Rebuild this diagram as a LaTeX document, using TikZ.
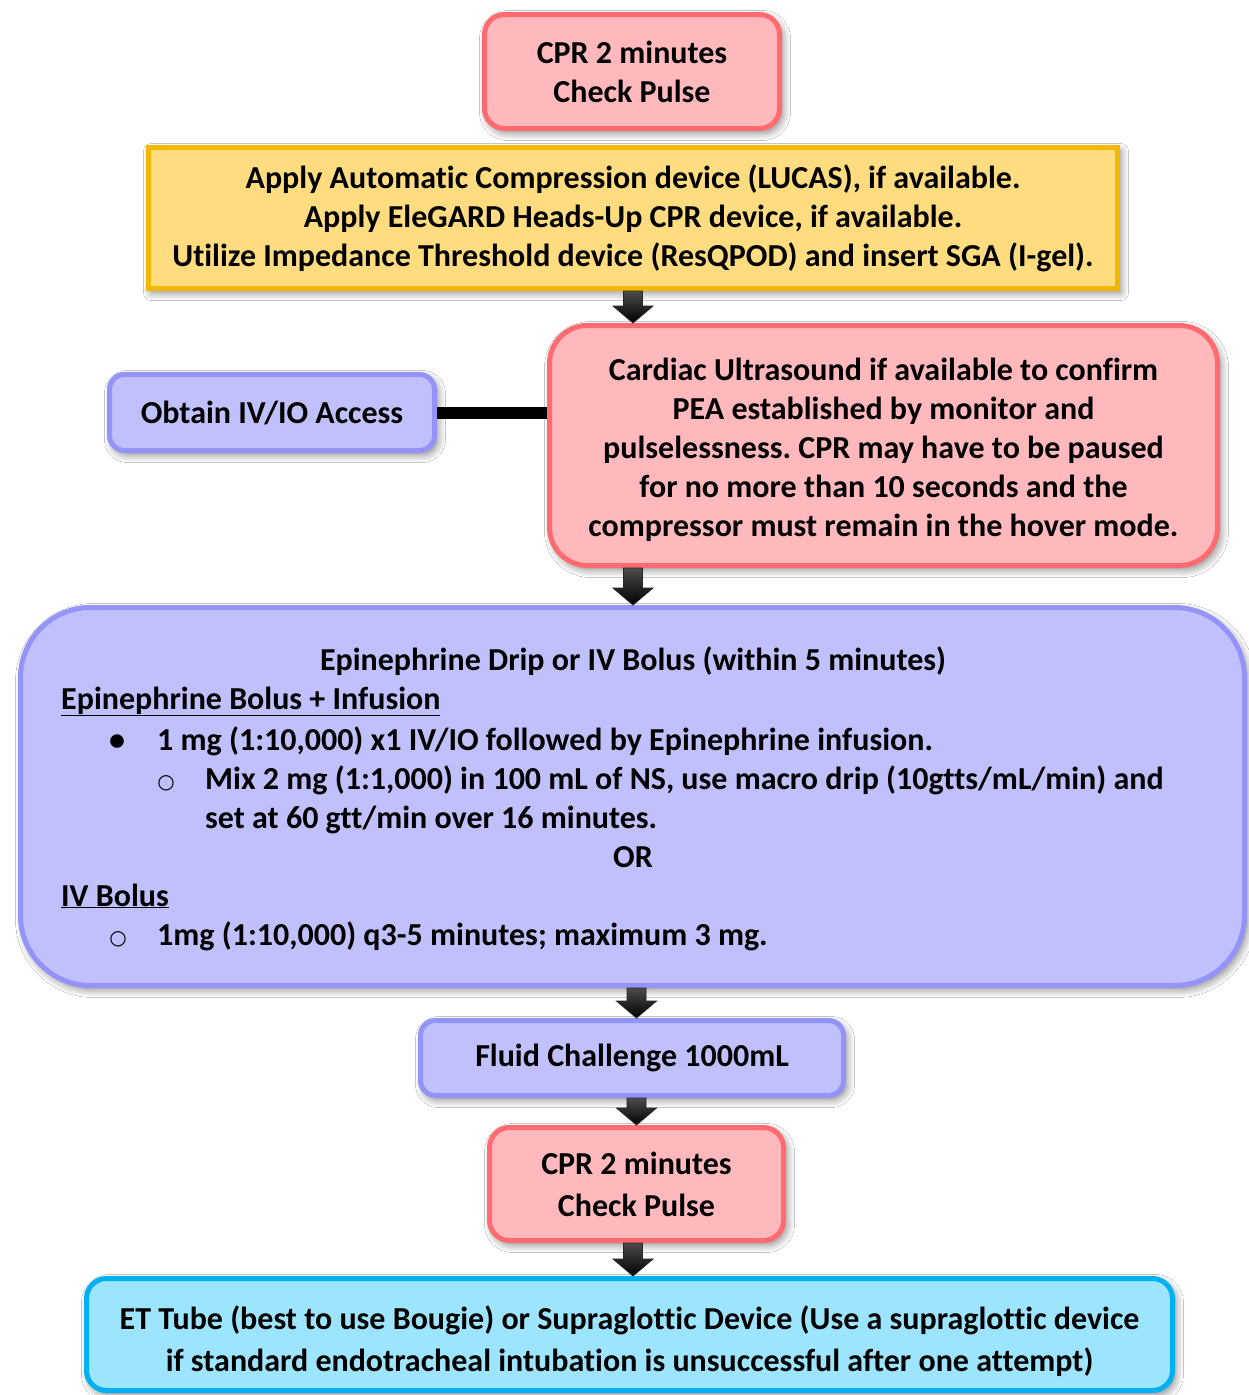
\documentclass[tikz,border=0pt]{standalone}
\usepackage{fontspec}
\setmainfont{Carlito}[RawFeature={-liga;-clig;-dlig;-calt}]
\newfontfamily\symfont{DejaVu Sans}
\usetikzlibrary{calc,shadows.blur}
\frenchspacing

\definecolor{pinkfill}{HTML}{FFB9BC}
\definecolor{pinkline}{HTML}{FF6B70}
\definecolor{lavfill}{HTML}{C0C0FC}
\definecolor{lavline}{HTML}{9393F8}
\definecolor{yelfill}{HTML}{FFDC80}
\definecolor{yelline}{HTML}{F2B800}
\definecolor{bluefill}{HTML}{9DE4FF}
\definecolor{blueline}{HTML}{00B0F0}

% block arrow running straight down from box #1 to box #2, in the column of #3
\newcommand\flowarrow[3]{%
  \path[blockarrow] let \p1=(#1.south), \p2=(#2.north), \p3=(#3) in
    (\x3-9.5pt,\y1) -- (\x3+9.5pt,\y1) -- (\x3+9.5pt,\y2+17pt)
    -- (\x3+20pt,\y2+17pt) -- (\x3,\y2) -- (\x3-20pt,\y2+17pt)
    -- (\x3-9.5pt,\y2+17pt) -- cycle;}

\begin{document}
\begin{tikzpicture}[x=1pt,y=1pt,
  boxbase/.style={draw, line width=5pt, align=center, inner sep=0pt,
    font=\bfseries\fontsize{32}{39}\selectfont,
    blur shadow={shadow xshift=3pt, shadow yshift=-4pt,
      shadow blur radius=8pt, shadow blur steps=10, shadow opacity=50}},
  pinkbox/.style={boxbase, fill=pinkfill, draw=pinkline},
  lavbox/.style={boxbase, fill=lavfill, draw=lavline},
  yelbox/.style={boxbase, fill=yelfill, draw=yelline},
  bluebox/.style={boxbase, fill=bluefill, draw=blueline},
  txt/.style={inner sep=0pt, font=\bfseries\fontsize{32}{39}\selectfont},
  hollowbullet/.style={inner sep=0pt, anchor=base, font=\symfont\fontsize{20}{24}\selectfont},
  blockarrow/.style={top color=black!70, bottom color=black,
    draw=black!85, line width=0.8pt, line join=miter}
]
\fill[white] (0,0) rectangle (1249,-1395);
\useasboundingbox (0,0) rectangle (1249,-1395);

\coordinate (col) at (633,0);

% boxes
\node[pinkbox, rounded corners=20pt, minimum width=295pt, minimum height=114pt]
  (cprA) at (632,-71.5) {CPR 2 minutes\\Check Pulse};

\node[yelbox, minimum width=969pt, minimum height=141pt]
  (devices) at (633,-218)
  {Apply Automatic Compression device (LUCAS), if available.\\
   Apply EleGARD Heads-Up CPR device, if available.\\
   Utilize Impedance Threshold device (ResQPOD) and insert SGA (I-gel).};

\node[pinkbox, rounded corners=38pt, minimum width=668pt, minimum height=240pt]
  (echo) at (883.5,-445.5)
  {\\[-8pt]Cardiac Ultrasound if available to confirm\\
   PEA established by monitor and\\
   pulselessness. CPR may have to be paused\\
   for no more than 10 seconds and the\\
   compressor must remain in the hover mode.};

\node[lavbox, rounded corners=15pt, minimum width=325pt, minimum height=76pt]
  (access) at (272,-412.5) {Obtain IV/IO Access};

\node[lavbox, rounded corners=70pt, minimum width=1224pt, minimum height=378pt]
  (epi) at (632.5,-796.5) {};

\node[lavbox, rounded corners=15pt, minimum width=423pt, minimum height=75pt]
  (fluid) at (632,-1058) {Fluid Challenge 1000mL};

\node[pinkbox, rounded corners=20pt, minimum width=294pt, minimum height=113pt,
  font=\bfseries\fontsize{32}{42}\selectfont]
  (cprB) at (636.5,-1184) {CPR 2 minutes\\Check Pulse};

\node[bluebox, rounded corners=20pt, minimum width=1086pt, minimum height=112pt,
  font=\bfseries\fontsize{32}{42}\selectfont]
  (airway) at (629.5,-1334.5)
  {\\[-6pt]ET Tube (best to use Bougie) or Supraglottic Device (Use a supraglottic device\\
   if standard endotracheal intubation is unsuccessful after one attempt)};

% epinephrine box contents
\node[txt, anchor=base] (e1) at (633,-670) {Epinephrine Drip or IV Bolus (within 5 minutes)};
\node[txt, anchor=base west] (e2) at (61,-709) {\underline{Epinephrine Bolus + Infusion}};
\node[txt, anchor=base] (b1) at (117,-750) {•};
\node[txt, anchor=base west] (e3) at (157,-750) {1 mg (1:10,000) x1 IV/IO followed by Epinephrine infusion.};
\node[hollowbullet] (b2) at (166,-788) {○};
\node[txt, anchor=base west] (e4) at (205,-789) {Mix 2 mg (1:1,000) in 100 mL of NS, use macro drip (10gtts/mL/min) and};
\node[txt, anchor=base west] (e5) at (205,-828) {set at 60 gtt/min over 16 minutes.};
\node[txt, anchor=base] (e6) at (633,-867) {OR};
\node[txt, anchor=base west] (e7) at (61,-906) {\underline{IV Bolus}};
\node[hollowbullet] (b3) at (118,-944) {○};
\node[txt, anchor=base west] (e8) at (157,-945) {1mg (1:10,000) q3-5 minutes; maximum 3 mg.};

% connectors
\draw[line width=12pt] (access.east) -- (access.east -| echo.west);
\flowarrow{devices}{echo}{col}
\flowarrow{echo}{epi}{col}
\flowarrow{epi}{fluid}{cprB}
\flowarrow{fluid}{cprB}{cprB}
\flowarrow{cprB}{airway}{col}
\end{tikzpicture}
\end{document}
